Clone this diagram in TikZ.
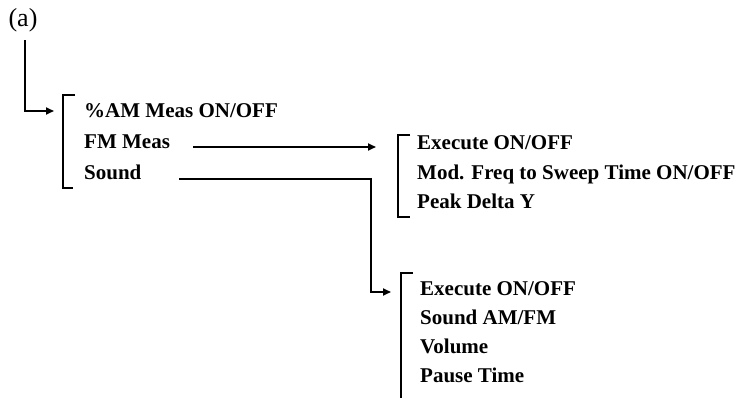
\documentclass[tikz,border=0pt]{standalone}
\usepackage{fontspec}
\setmainfont{Liberation Serif}
\usetikzlibrary{arrows.meta}
\begin{document}
\begin{tikzpicture}[x=1pt,y=-1pt,
  item/.style={anchor=base west,inner sep=0pt,font=\fontsize{21}{24}\selectfont\bfseries},
  conn/.style={line width=1.7pt},
  arr/.style={conn,-{Triangle[length=8pt,width=7pt]}},
  brk/.style={line width=1.7pt}]
\useasboundingbox (0,0) rectangle (738,398);
% label
\node[inner sep=0pt,font=\fontsize{26}{30}\selectfont] (lbl) at (23,20) {(a)};
\coordinate (a0) at (25,40);
% first menu
\node[item] (m1) at (84,118) {\%AM Meas ON/OFF};
\node[item] (m2) at (84,149) {FM Meas};
\node[item] (m3) at (84,179) {Sound};
\coordinate (b1t) at (63,95);
\coordinate (b1b) at (63,188);
\coordinate (b1in) at (54,111);
\draw[brk] (75,95) -- (b1t) -- (b1b) -- (73,188);
\draw[arr] (a0) |- (b1in);
% FM submenu
\node[item] (f1) at (417,150) {Execute ON/OFF};
\node[item] (f2) at (417,179) {Mod. Freq to Sweep Time ON/OFF};
\node[item] (f3) at (417,208) {Peak Delta Y};
\coordinate (b2t) at (398,135);
\coordinate (b2b) at (398,217);
\draw[brk] (410,135) -- (b2t) -- (b2b) -- (410,217);
\coordinate (fmS) at (193,147);
\coordinate (fmE) at (376,147);
\draw[arr] (fmS) -- (fmE);
% Sound submenu
\node[item] (s1) at (420,295) {Execute ON/OFF};
\node[item] (s2) at (420,324) {Sound AM/FM};
\node[item] (s3) at (420,353) {Volume};
\node[item] (s4) at (420,382) {Pause Time};
\coordinate (b3t) at (401,273);
\coordinate (b3b) at (401,398);
\draw[brk] (413,273) -- (b3t) -- (b3b);
\coordinate (sdS) at (179,179);
\coordinate (sdK) at (371,179);
\coordinate (sdE) at (391,292);
\draw[arr] (sdS) -- (sdK) |- (sdE);
\end{tikzpicture}
\end{document}
